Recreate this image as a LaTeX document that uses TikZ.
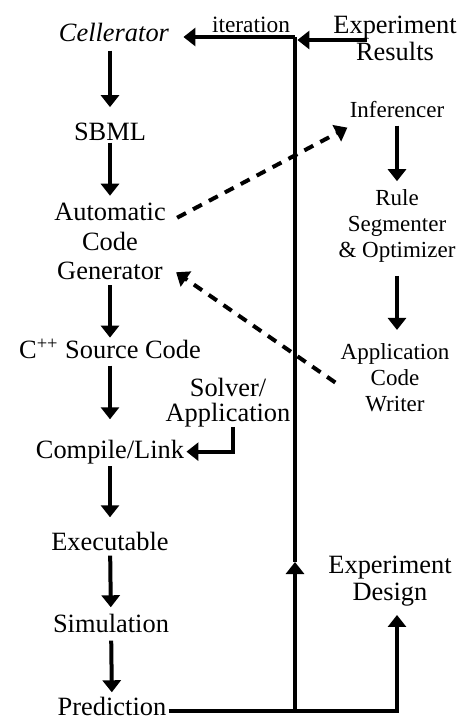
\documentclass[tikz,border=0pt]{standalone}
\usepackage{fontspec}
\setmainfont{Liberation Serif}
\usetikzlibrary{arrows.meta,calc}

\begin{document}
\begin{tikzpicture}[x=0.5pt,y=-0.5pt,>={Triangle[length=6pt,width=9pt]},
  box/.style={inner sep=1pt,font=\fontsize{13.2}{13.5}\selectfont},
  side/.style={inner sep=1pt,align=center,font=\fontsize{11.5}{13}\selectfont},
  flow/.style={line width=2pt,->},
  dflow/.style={line width=2pt,->,dash pattern=on 5pt off 4pt},
  trunk/.style={line width=2.4pt}]
  \useasboundingbox (0,0) rectangle (464,719);

  % left column: the tool chain
  \node[box,anchor=base] (cell) at (114,41) {\textit{Cellerator}};
  \node[box,anchor=base] (sbml) at (110,140) {SBML};
  \node[box,align=center,font=\fontsize{13.2}{14.75}\selectfont] (acg) at (110,241.5) {Automatic\\Code\\Generator};
  \node[box,anchor=base,text height=9pt] (cpp) at (110,358) {C\textsuperscript{++} Source Code};
  \node[box,align=center,font=\fontsize{13.2}{12.5}\selectfont] (solver) at (228,403) {Solver/\\Application};
  \node[box,anchor=base] (comp) at (110,458) {Compile/Link};
  \node[box,anchor=base] (exe) at (110,550) {Executable};
  \node[box,anchor=base] (sim) at (111,632) {Simulation};
  \node[box,anchor=base] (pred) at (112,715) {Prediction};

  % right column: rules and experiments
  \node[box,anchor=base,font=\fontsize{11.7}{13}\selectfont] (iter) at (251,32) {iteration};
  \node[box,align=center] (expres) at (395,38) {Experiment\\Results};
  \node[box,anchor=base,font=\fontsize{11.5}{13}\selectfont] (infer) at (397,117) {Inferencer};
  \node[side] (rule) at (397,226) {Rule\\Segmenter\\\& Optimizer};
  \node[side] (acw) at (395,377.5) {Application\\Code\\Writer};
  \node[box,align=center] (expdes) at (390,581.5) {Experiment\\Design};

  \coordinate (top) at (295,37);
  \coordinate (bot) at (295,711);
  \coordinate (mid) at (295,562);
  \coordinate (resin) at (367,40);

  % the loop back
  \draw[trunk,->] (bot) -- (mid);
  \draw[trunk] (mid) -- (top);
  \draw[flow] (top) -- ($(cell.east |- top)+(12,0)$);
  \draw[flow,shorten >=1.2pt] (resin) -- (resin -| top);

  \draw[flow,shorten <=3.5pt,shorten >=6.5pt] (cell.south -| sbml) -- (sbml);
  \draw[flow,shorten >=2.5pt] (sbml) -- (acg);
  \draw[flow,shorten <=1.5pt] (acg) -- (cpp);
  \draw[flow,shorten <=2.5pt,shorten >=9pt] (cpp) -- (comp);
  \draw[flow,shorten >=6pt] (comp) -- (exe);
  \draw[flow,shorten <=1.5pt,shorten >=2pt] (exe) -- (sim);
  \draw[flow,shorten <=3pt,shorten >=1pt] (sim) -- (pred);
  \draw[flow] ($(solver.south)+(5,-3)$) |- (comp);

  \draw[flow,shorten <=3pt,shorten >=3pt] (infer) -- (rule);
  \draw[flow,shorten <=5.5pt,shorten >=5.5pt] (rule) -- (rule |- acw.north);
  \draw[flow,shorten >=3pt] (pred.east |- bot) -- (bot) -| ($(expdes.south)+(7,0)$);

  \draw[dflow] ($(acg.north east)+(9,17)$) -- ($(infer.south west)+(0,8)$);
  \draw[dflow] ($(acw.west)+(-3,5)$) -- ($(acg.south east)+(8,-10)$);
\end{tikzpicture}
\end{document}
